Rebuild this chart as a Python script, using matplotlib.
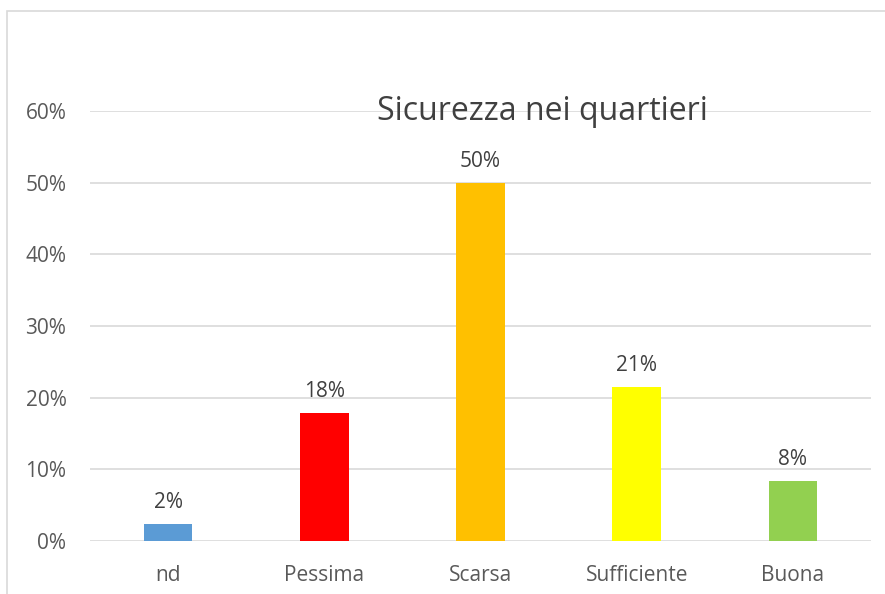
import matplotlib.pyplot as plt
from matplotlib.patches import Rectangle
from matplotlib.ticker import PercentFormatter

categories = ['nd', 'Pessima', 'Scarsa', 'Sufficiente', 'Buona']
values = [0.024, 0.179, 0.50, 0.215, 0.084]
labels = ['2%', '18%', '50%', '21%', '8%']
colors = ['#5B9BD5', '#FF0000', '#FFC000', '#FFFF00', '#92D050']

plt.rcParams['font.family'] = ['Open Sans', 'DejaVu Sans']
W, H = 885, 594
fig = plt.figure(figsize=(W / 100, H / 100), dpi=100)

# chart border (partly cropped in the reference)
fig.patches.append(Rectangle((7 / W, -0.1), 1.2, (H - 11) / H + 0.1,
                             transform=fig.transFigure, fill=False,
                             edgecolor='#D9D9D9', linewidth=1.2))

ax = fig.add_axes([90 / W, (H - 541) / H, (871 - 90) / W, (541 - 111) / H])
x = range(len(categories))
ax.bar(x, values, width=0.31, color=colors, zorder=3)
for xi, v, lab in zip(x, values, labels):
    ax.annotate(lab, (xi, v), xytext=(0, 8), textcoords='offset points',
                ha='center', va='bottom', fontsize=15, color='#404040')

ax.set_xlim(-0.5, 4.5)
ax.set_ylim(0, 0.6)
ax.set_yticks([0, 0.1, 0.2, 0.3, 0.4, 0.5, 0.6])
ax.yaxis.set_major_formatter(PercentFormatter(1.0, decimals=0))
ax.set_xticks(list(x))
ax.set_xticklabels(categories)
ax.grid(axis='y', color='#D9D9D9', linewidth=1.2, zorder=0)
for s in ax.spines.values():
    s.set_visible(False)
ax.tick_params(length=0, labelsize=15, labelcolor='#595959')
ax.tick_params(axis='y', pad=17)
ax.tick_params(axis='x', pad=17)

fig.text(542 / W, 1 - 112 / H, 'Sicurezza nei quartieri', ha='center', va='center',
         fontsize=23, color='#404040')

fig.savefig('out.png', dpi=100)
